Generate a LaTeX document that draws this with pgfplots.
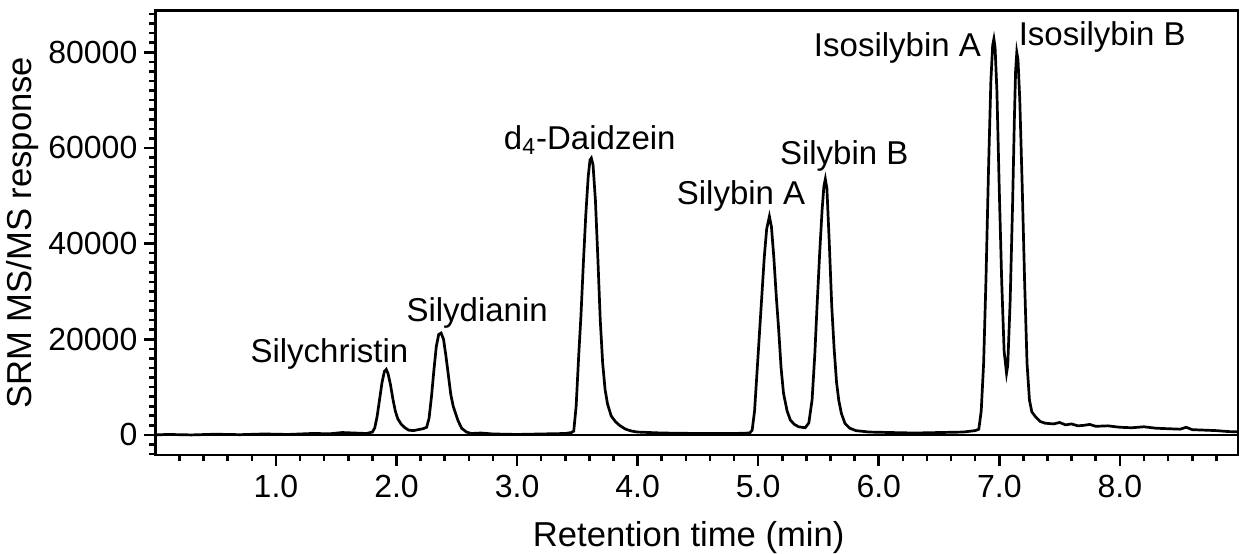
\documentclass[border=0pt]{standalone}
\usepackage{fontspec}
\setmainfont{Liberation Sans}
\usepackage{pgfplots}
\pgfplotsset{compat=1.18}
\begin{document}
\begin{tikzpicture}
\begin{axis}[
 scale only axis, width=541.3pt, height=222.15pt,
 xmin=0, xmax=8.98, ymin=-4200, ymax=88700,
 axis line style={line width=1.4pt},
 xtick={1,2,...,8}, minor xtick={0.2,0.4,...,8.81},
 ytick={0,20000,...,80000}, minor ytick={-4000,-2000,...,88000},
 tick align=outside, xtick pos=bottom, ytick pos=left,
 major tick length=5.5pt, minor tick length=3pt,
 tick style={line width=1.3pt, black},
 xticklabel style={yshift=-1pt, /pgf/number format/.cd, fixed, fixed zerofill, precision=1},
 yticklabel style={/pgf/number format/.cd, fixed, 1000 sep={}},
 /pgf/number format/assume math mode=true,
 scaled y ticks=false,
 ticklabel style={font=\fontsize{16}{19}\selectfont},
 label style={font=\fontsize{17.3}{20}\selectfont},
 xlabel={Retention time (min)},
 ylabel={SRM MS/MS response},
 xlabel shift=5pt, ylabel shift=-2pt,
 xlabel style={xshift=-4pt},
]
\addplot[black, line width=0.8pt] coordinates {(0,0) (8.98,0)};
\addplot[black, line width=1.35pt] coordinates {
(0.0,0) (0.1,100) (0.3,0) (0.5,150) (0.7,50) (0.9,200) (1.1,100) (1.3,300) (1.45,250) (1.55,500) (1.65,400) (1.75,300) (1.80,600)
(1.82,1500) (1.84,4000) (1.86,7500) (1.88,11000) (1.90,13300) (1.915,13700) (1.93,12800) (1.95,10500) (1.97,7500) (1.99,5000) (2.01,3400) (2.04,2200) (2.07,1500) (2.10,1000) (2.14,900) (2.18,1100) (2.22,1300) (2.25,1600)
(2.27,3500) (2.29,8000) (2.31,13500) (2.33,18500) (2.35,21000) (2.37,21300) (2.39,20000) (2.41,16500) (2.43,12500) (2.45,8500) (2.47,6000) (2.49,4500) (2.51,3000) (2.54,1400) (2.58,600) (2.62,300) (2.7,400) (2.8,200) (3.0,100) (3.2,200) (3.4,300) (3.45,500)
(3.47,800) (3.49,6000) (3.51,16000) (3.53,25000) (3.55,36000) (3.57,46000) (3.59,54000) (3.605,57500) (3.616,57900) (3.63,56500) (3.65,49000) (3.67,37000) (3.69,24000) (3.71,15000) (3.73,9500) (3.75,6500) (3.78,4000) (3.815,2800) (3.85,2000) (3.9,1200) (3.95,800) (4.0,600) (4.2,400) (4.5,300) (4.8,300) (4.93,400)
(4.95,1000) (4.97,5000) (4.99,13000) (5.01,21000) (5.03,29000) (5.05,37000) (5.07,43000) (5.093,45700) (5.11,43500) (5.13,37000) (5.15,29000) (5.17,22000) (5.19,14000) (5.21,8700) (5.24,5000) (5.267,3100) (5.30,2200) (5.336,1700) (5.39,1500) (5.42,2500)
(5.447,7300) (5.47,17000) (5.488,26800) (5.51,38000) (5.53,47000) (5.545,52000) (5.557,53500) (5.57,51500) (5.59,40000) (5.61,27000) (5.63,18000) (5.65,11000) (5.668,7300) (5.69,4500) (5.72,2400) (5.76,1400) (5.81,900) (5.92,600) (6.1,500) (6.3,400) (6.5,500) (6.7,600) (6.8,900)
(6.83,1200) (6.85,5000) (6.87,15000) (6.89,33000) (6.91,55000) (6.93,74000) (6.945,81500) (6.955,82800) (6.965,81000) (6.98,72000) (7.00,51000) (7.02,32000) (7.04,17500) (7.06,12900) (7.07,14500) (7.09,28000) (7.11,48000) (7.125,66000) (7.135,76000) (7.145,80000) (7.155,78500) (7.17,70000) (7.19,52000) (7.21,32000) (7.23,15000) (7.25,7300) (7.27,4800) (7.30,3800) (7.34,2800) (7.38,2450)
(7.45,2300) (7.5,2600) (7.55,2100) (7.6,2300) (7.65,1900) (7.7,2000) (7.75,2200) (7.8,1800) (7.9,1900) (8.0,1600) (8.1,1500) (8.2,1700) (8.3,1400) (8.4,1300) (8.5,1200) (8.55,1600) (8.6,1100) (8.7,1000) (8.8,900) (8.9,700) (8.98,650)
};
\begin{scope}[every node/.style={anchor=base, font=\fontsize{16.5}{19}\selectfont, inner sep=0pt}]
\node at (axis cs:1.443,15050) {Silychristin};
\node at (axis cs:2.669,23620) {Silydianin};
\node at (axis cs:3.603,59720) {d\textsubscript{4}-Daidzein};
\node at (axis cs:4.858,48080) {Silybin A};
\node at (axis cs:5.714,56440) {Silybin B};
\node at (axis cs:6.155,79080) {Isosilybin A};
\node at (axis cs:7.854,81520) {Isosilybin B};
\end{scope}
\end{axis}
\pgfresetboundingbox
\path[use as bounding box] (-77.7pt,-49pt) rectangle (545.3pt,227.5pt);
\end{tikzpicture}
\end{document}
